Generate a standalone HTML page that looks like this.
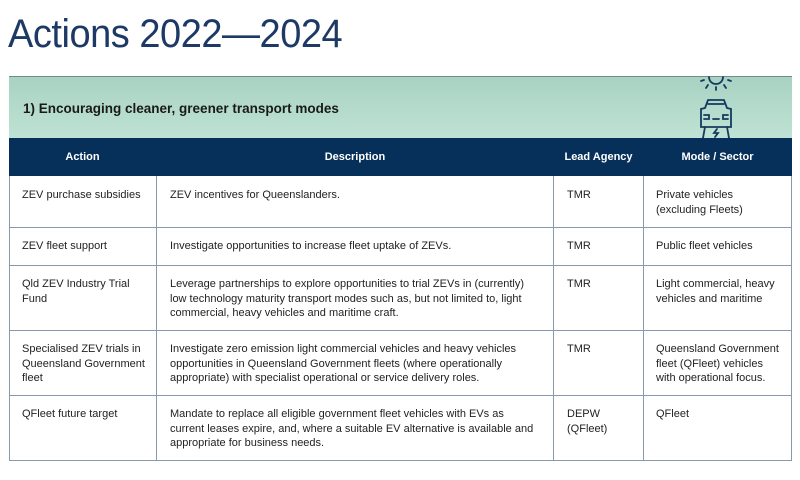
<!DOCTYPE html>
<html><head><meta charset="utf-8"><style>
body{margin:0;width:800px;height:480px;background:#fff;position:relative;overflow:hidden;font-family:"Liberation Sans Narrow","Liberation Sans",sans-serif;}
.t{position:absolute;left:8px;top:12px;font-family:"Liberation Sans",sans-serif;font-size:40px;color:#1d3a66;letter-spacing:-0.5px;white-space:nowrap;transform:scaleX(0.95);transform-origin:left;}
.band{position:absolute;left:9px;top:76px;width:783px;height:62px;background:linear-gradient(#a9d2c3,#bfe3d5);border-top:1px solid #6b8e88;}
.band span{position:absolute;left:14px;top:24px;font-size:13.5px;font-weight:bold;color:#1a1a1a;white-space:nowrap;}
.hdr{position:absolute;left:9px;top:138px;width:783px;height:38px;background:#062f5a;}
.h{position:absolute;top:151px;color:#fff;font-size:11px;font-weight:bold;text-align:center;white-space:nowrap;}
.tbl{position:absolute;left:9px;top:176px;width:781px;height:284px;border:1px solid #8898ad;border-top:none;}
.hl{position:absolute;left:9px;width:783px;height:1px;background:#8898ad;}
.vl{position:absolute;top:176px;width:1px;height:285px;background:#8898ad;}
.c{position:absolute;font-size:11px;line-height:14.5px;color:#222;white-space:nowrap;}
</style></head><body>
<div class="t">Actions 2022—2024</div>
<div class="band"><span>1) Encouraging cleaner, greener transport modes</span>
<svg style="position:absolute;left:682px;top:-2px" width="50" height="64" viewBox="0 0 50 64" fill="none" stroke="#163a5e" stroke-width="1.8" stroke-linecap="round">
<path d="M18 2 a7 7 0 0 0 14 0"/><line x1="25" y1="12" x2="25" y2="15"/><line x1="17" y1="10" x2="15" y2="13"/><line x1="33" y1="10" x2="35" y2="13"/><line x1="13" y1="5" x2="10" y2="6"/><line x1="37" y1="5" x2="40" y2="6"/>
<path d="M14 33 L17 25 L33 25 L36 33 L40 34 L40 52 L10 52 L10 34 Z"/><line x1="17" y1="29" x2="33" y2="29"/><path d="M13 40 h5 v4 h-5"/><path d="M37 40 h-5 v4 h5"/><line x1="22" y1="44" x2="28" y2="44"/><line x1="14" y1="52" x2="12" y2="63"/><line x1="36" y1="52" x2="38" y2="63"/><path d="M26 54 l-3 4 h4 l-3 4"/></svg></div>
<div class="hdr"></div>
<div class="h" style="left:9px;width:147px">Action</div>
<div class="h" style="left:156px;width:398px">Description</div>
<div class="h" style="left:554px;width:89px">Lead Agency</div>
<div class="h" style="left:643px;width:149px">Mode / Sector</div>
<div class="tbl"></div>
<div class="vl" style="left:156px"></div><div class="vl" style="left:553px"></div><div class="vl" style="left:643px"></div>
<div class="hl" style="top:227px"></div><div class="hl" style="top:265px"></div><div class="hl" style="top:330px"></div><div class="hl" style="top:395px"></div>
<div class="c" style="left:22px;top:188px">ZEV purchase subsidies</div>
<div class="c" style="left:170px;top:188px">ZEV incentives for Queenslanders.</div>
<div class="c" style="left:567px;top:188px">TMR</div>
<div class="c" style="left:656px;top:188px">Private vehicles<br>(excluding Fleets)</div>
<div class="c" style="left:22px;top:239px">ZEV fleet support</div>
<div class="c" style="left:170px;top:239px">Investigate opportunities to increase fleet uptake of ZEVs.</div>
<div class="c" style="left:567px;top:239px">TMR</div>
<div class="c" style="left:656px;top:239px">Public fleet vehicles</div>
<div class="c" style="left:22px;top:277px">Qld ZEV Industry Trial<br>Fund</div>
<div class="c" style="left:170px;top:277px">Leverage partnerships to explore opportunities to trial ZEVs in (currently)<br>low technology maturity transport modes such as, but not limited to, light<br>commercial, heavy vehicles and maritime craft.</div>
<div class="c" style="left:567px;top:277px">TMR</div>
<div class="c" style="left:656px;top:277px">Light commercial, heavy<br>vehicles and maritime</div>
<div class="c" style="left:22px;top:342px">Specialised ZEV trials in<br>Queensland Government<br>fleet</div>
<div class="c" style="left:170px;top:342px">Investigate zero emission light commercial vehicles and heavy vehicles<br>opportunities in Queensland Government fleets (where operationally<br>appropriate) with specialist operational or service delivery roles.</div>
<div class="c" style="left:567px;top:342px">TMR</div>
<div class="c" style="left:656px;top:342px">Queensland Government<br>fleet (QFleet) vehicles<br>with operational focus.</div>
<div class="c" style="left:22px;top:407px">QFleet future target</div>
<div class="c" style="left:170px;top:407px">Mandate to replace all eligible government fleet vehicles with EVs as<br>current leases expire, and, where a suitable EV alternative is available and<br>appropriate for business needs.</div>
<div class="c" style="left:567px;top:407px">DEPW<br>(QFleet)</div>
<div class="c" style="left:656px;top:407px">QFleet</div>
</body></html>
